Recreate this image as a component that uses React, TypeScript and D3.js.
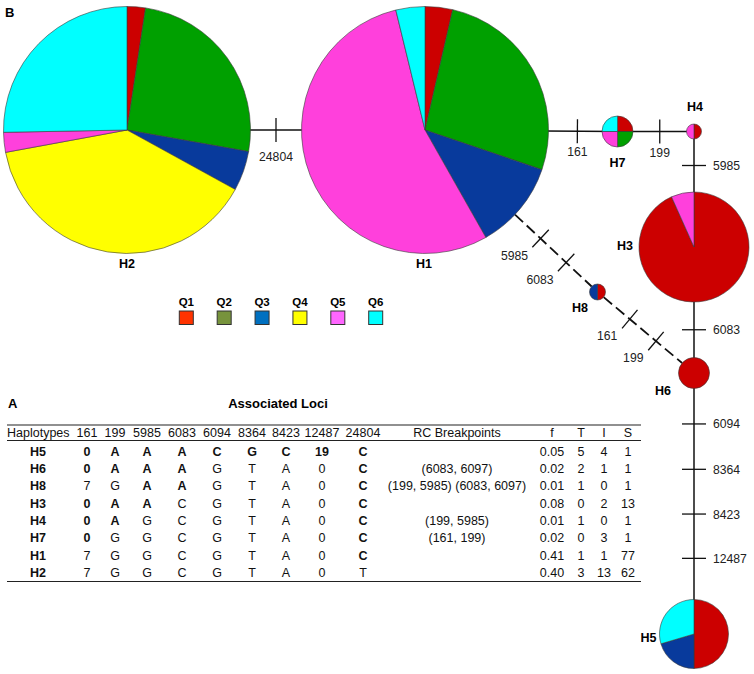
import React from "react";
import * as d3 from "d3";

// ---------- DATA ----------
const groups = ["Q1", "Q2", "Q3", "Q4", "Q5", "Q6"];

// pie composition per haplotype (share of each group, %)
const compH1 = [3.6, 26.6, 11.6, 0, 54.4, 3.8];
const compH2 = [2.4, 25.4, 5.2, 39.1, 2.6, 25.3];
const compH3 = [93.3, 0, 0, 0, 6.7, 0];
const compH4 = [50, 0, 0, 0, 50, 0];
const compH5 = [50, 0, 20.4, 0, 0, 29.6];
const compH6 = [100, 0, 0, 0, 0, 0];
const compH7 = [25, 25, 0, 0, 25, 25];
const compH8 = [50, 0, 50, 0, 0, 0];

// network edges: from, to, mutated loci, recombinant (dashed)
const edgeFrom = ["H2", "H1", "H7", "H4", "H3", "H6", "H1", "H8"];
const edgeTo = ["H1", "H7", "H4", "H3", "H6", "H5", "H8", "H6"];
const edgeLoci = [["24804"], ["161"], ["199"], ["5985"], ["6083"], ["6094", "8364", "8423", "12487"], ["5985", "6083"], ["161", "199"]];
const edgeDashed = [false, false, false, false, false, false, true, true];

// table
const haplotypes = ["H5", "H6", "H8", "H3", "H4", "H7", "H1", "H2"];
const loci = ["161", "199", "5985", "6083", "6094", "8364", "8423", "12487", "24804"];
const alleles = [
  ["0", "A", "A", "A", "C", "G", "C", "19", "C"],
  ["0", "A", "A", "A", "G", "T", "A", "0", "C"],
  ["7", "G", "A", "A", "G", "T", "A", "0", "C"],
  ["0", "A", "A", "C", "G", "T", "A", "0", "C"],
  ["0", "A", "G", "C", "G", "T", "A", "0", "C"],
  ["0", "G", "G", "C", "G", "T", "A", "0", "C"],
  ["7", "G", "G", "C", "G", "T", "A", "0", "C"],
  ["7", "G", "G", "C", "G", "T", "A", "0", "T"],
];
const rcBreakpoints = ["", "(6083, 6097)", "(199, 5985) (6083, 6097)", "", "(199, 5985)", "(161, 199)", "", ""];
const freqF = ["0.05", "0.02", "0.01", "0.08", "0.01", "0.02", "0.41", "0.40"];
const countT = ["5", "2", "1", "0", "1", "0", "1", "3"];
const countI = ["4", "1", "0", "2", "0", "3", "1", "13"];
const countS = ["1", "1", "1", "13", "1", "1", "77", "62"];

// ---------- LAYOUT / STYLE ----------
const FONT = "Arial, 'Liberation Sans', sans-serif";
const pieColors = ["#cc0000", "#00a000", "#083a9c", "#ffff00", "#ff40dc", "#00ffff"];
const legendColors = ["#ff3300", "#77933c", "#0070c0", "#ffff00", "#ff66ff", "#00ffff"];

const comps: Record<string, number[]> = {
  H1: compH1, H2: compH2, H3: compH3, H4: compH4, H5: compH5, H6: compH6, H7: compH7, H8: compH8,
};
const nodeLayout: Record<string, { x: number; y: number; r: number; lx: number; ly: number }> = {
  H2: { x: 127, y: 130, r: 123.5, lx: 0, ly: 138 },
  H1: { x: 425, y: 130, r: 123.5, lx: -1, ly: 138 },
  H7: { x: 617.5, y: 131.5, r: 15.5, lx: 0, ly: 35 },
  H4: { x: 694, y: 131.5, r: 7.5, lx: 1, ly: -21 },
  H3: { x: 694, y: 247, r: 55, lx: -69, ly: 2.5 },
  H8: { x: 597.5, y: 292, r: 8, lx: -17.5, ly: 19.5 },
  H6: { x: 694, y: 373, r: 15.5, lx: -31, ly: 21.5 },
  H5: { x: 694, y: 634, r: 34.5, lx: -45.5, ly: 7.5 },
};
const edgeLabelDy = [31, 25, 25, 0, 0, 0, 0, 0];
const edgeFractions: (number[] | null)[] = [null, [0.54], null, null, null, [0.168, 0.383, 0.595, 0.805], null, null];

const colX = [87, 115, 147, 182, 217, 252, 286, 322, 363];
const rcX = 457, fX = 552, tX = 581, iX = 604, sX = 628;

function Pie({ name }: { name: string }) {
  const L = nodeLayout[name];
  const data = comps[name];
  const arcs = d3.pie<number>().sort(null).value((d) => d)(data);
  const arc = d3.arc<d3.PieArcDatum<number>>().innerRadius(0).outerRadius(L.r);
  return (
    <g transform={`translate(${L.x},${L.y})`}>
      {arcs.filter((a) => a.value > 0).map((a, i) => (
        <path key={i} d={arc(a) || ""} fill={pieColors[a.index]} stroke="#3a3a3a" strokeWidth={0.6} />
      ))}
      <text x={L.lx} y={L.ly} textAnchor="middle" fontFamily={FONT} fontWeight="bold" fontSize={12.5}>{name}</text>
    </g>
  );
}

function Edge({ idx }: { idx: number }) {
  const a = nodeLayout[edgeFrom[idx]];
  const b = nodeLayout[edgeTo[idx]];
  const dx = b.x - a.x, dy = b.y - a.y;
  const len = Math.hypot(dx, dy);
  const ux = dx / len, uy = dy / len;
  const sx = a.x + ux * a.r, sy = a.y + uy * a.r;
  const ex = b.x - ux * b.r, ey = b.y - uy * b.r;
  const segLen = Math.hypot(ex - sx, ey - sy);
  const pos = d3.scaleLinear().domain([0, 1]).range([0, segLen]);
  const labels = edgeLoci[idx];
  const fr = edgeFractions[idx] || labels.map((_, i) => (i + 1) / (labels.length + 1));
  const nx = -uy, ny = ux;
  const horizontal = Math.abs(uy) < 0.1;
  const vertical = Math.abs(ux) < 0.1;
  const dashed = edgeDashed[idx];
  return (
    <g>
      <line x1={dashed ? sx : a.x} y1={dashed ? sy : a.y} x2={dashed ? ex : b.x} y2={dashed ? ey : b.y}
        stroke="#111" strokeWidth={dashed ? 1.8 : 1.5} strokeDasharray={dashed ? "11,5" : undefined} />
      {labels.map((lab, i) => {
        const d = pos(fr[i]);
        const px = sx + ux * d, py = sy + uy * d;
        const h = 12;
        let tx = px, ty = py, anchor = "middle";
        if (horizontal) { ty = py + edgeLabelDy[idx]; }
        else if (vertical) { tx = px + 19; ty = py + 4.5; anchor = "start"; }
        else { tx = px - 12.5; ty = py + 21; anchor = "end"; }
        return (
          <g key={i}>
            <line x1={px - nx * h} y1={py - ny * h} x2={px + nx * h} y2={py + ny * h} stroke="#111" strokeWidth={1.3} />
            <text x={tx} y={ty} textAnchor={anchor as any} fontFamily={FONT} fontSize={12.2} fill="#222">{lab}</text>
          </g>
        );
      })}
    </g>
  );
}

export default function App() {
  const legendX = d3.scalePoint<string>().domain(groups).range([186.3, 375.7]);
  const rowY = d3.scalePoint<string>().domain(haplotypes).range([455.8, 576.9]);
  const ref = alleles[haplotypes.indexOf("H2")];
  const pieOrder = ["H2", "H1", "H7", "H4", "H3", "H8", "H6", "H5"];
  return (
    <svg width={754} height={674} style={{ position: "absolute", left: 0, top: 0, background: "#fff" }}>
      <rect width={754} height={674} fill="#fff" />
      <text x={5} y={17} fontFamily={FONT} fontWeight="bold" fontSize={13}>B</text>
      {edgeFrom.map((_, i) => <Edge key={i} idx={i} />)}
      {pieOrder.map((n) => <Pie key={n} name={n} />)}

      {/* legend */}
      {groups.map((g, i) => (
        <g key={g}>
          <text x={legendX(g)} y={306} textAnchor="middle" fontFamily={FONT} fontWeight="bold" fontSize={11.5}>{g}</text>
          <rect x={(legendX(g) as number) - 7} y={311} width={14} height={13.5} fill={legendColors[i]} stroke="#333" strokeWidth={1} />
        </g>
      ))}

      {/* table */}
      <text x={8} y={408} fontFamily={FONT} fontWeight="bold" fontSize={13}>A</text>
      <text x={278} y={408} textAnchor="middle" fontFamily={FONT} fontWeight="bold" fontSize={13}>Associated Loci</text>
      <line x1={7} x2={641} y1={425} y2={425} stroke="#222" strokeWidth={1.2} />
      <line x1={7} x2={641} y1={440.5} y2={440.5} stroke="#222" strokeWidth={1.2} />
      <line x1={7} x2={641} y1={581.5} y2={581.5} stroke="#222" strokeWidth={1.2} />
      <g fontFamily={FONT} fontSize={12.5} fill="#111">
        <text x={7} y={436.5}>Haplotypes</text>
        {loci.map((l, j) => <text key={l} x={colX[j]} y={436.5} textAnchor="middle">{l}</text>)}
        <text x={rcX} y={436.5} textAnchor="middle">RC Breakpoints</text>
        <text x={fX} y={436.5} textAnchor="middle">f</text>
        <text x={tX} y={436.5} textAnchor="middle">T</text>
        <text x={iX} y={436.5} textAnchor="middle">I</text>
        <text x={sX} y={436.5} textAnchor="middle">S</text>
        {haplotypes.map((h, r) => {
          const y = rowY(h) as number;
          return (
            <g key={h}>
              <text x={38} y={y} textAnchor="middle" fontWeight="bold">{h}</text>
              {alleles[r].map((v, j) => (
                <text key={j} x={colX[j]} y={y} textAnchor="middle" fontWeight={v !== ref[j] ? "bold" : "normal"}>{v}</text>
              ))}
              <text x={rcX} y={y} textAnchor="middle">{rcBreakpoints[r]}</text>
              <text x={fX} y={y} textAnchor="middle">{freqF[r]}</text>
              <text x={tX} y={y} textAnchor="middle">{countT[r]}</text>
              <text x={iX} y={y} textAnchor="middle">{countI[r]}</text>
              <text x={sX} y={y} textAnchor="middle">{countS[r]}</text>
            </g>
          );
        })}
      </g>
    </svg>
  );
}
